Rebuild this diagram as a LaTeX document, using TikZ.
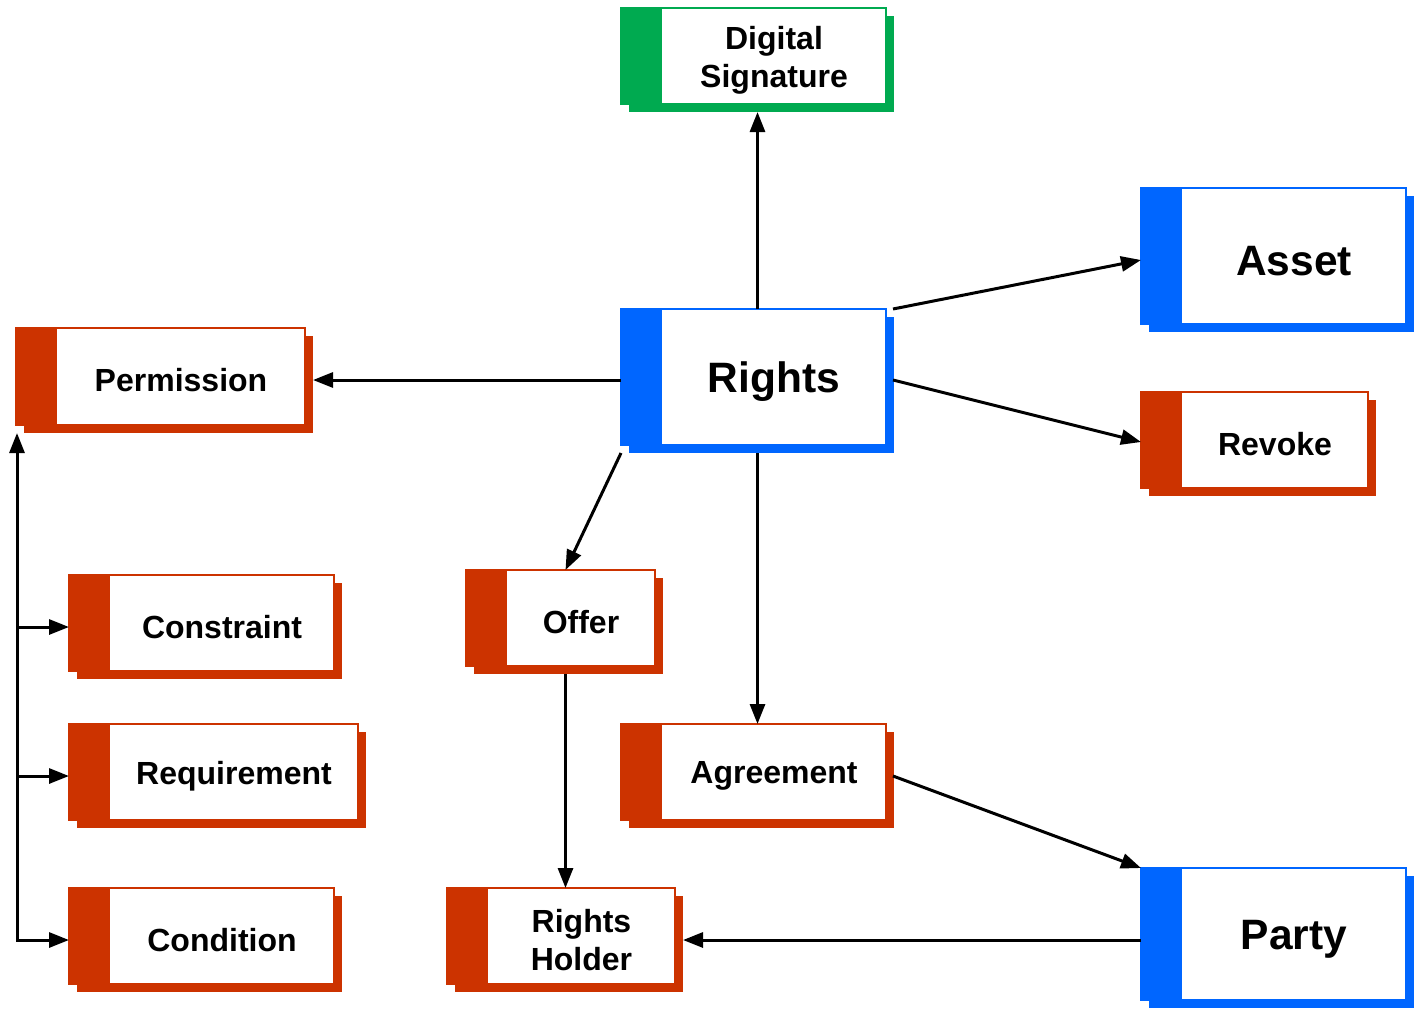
\documentclass[tikz,border=0pt]{standalone}
\usepackage{fontspec}
\setmainfont{Liberation Sans}
\usetikzlibrary{arrows.meta,calc}
\definecolor{cred}{HTML}{CC3300}
\definecolor{cblue}{HTML}{0066FF}
\definecolor{cgreen}{HTML}{00AA50}
\newcommand\mkbox[8]{%
  \node[shadowbox, fill=#6, minimum width=#4pt, minimum height=#5pt] (#1s) at (#2+8,#3+8) {};
  \node[frontbox, draw=#6, minimum width=#4pt, minimum height=#5pt] (#1) at (#2,#3) {};
  \fill[#6] (#1.north west) rectangle ([xshift=41pt]#1.south west);
  \node[#8] (#1t) at ([xshift=20.5pt]#1.center) {#7};
}
\begin{document}
\begin{tikzpicture}[x=1pt,y=-1pt,
  shadowbox/.style={anchor=north west, inner sep=0pt, outer sep=0pt, draw=none},
  frontbox/.style={anchor=north west, inner sep=0pt, outer sep=0pt, fill=white, line width=2pt},
  smalltext/.style={font=\bfseries\fontsize{32}{38}\selectfont, align=center, text=black, yshift=-4pt},
  bigtext/.style={font=\bfseries\fontsize{42.5}{48}\selectfont, align=center, text=black, yshift=-5pt},
  arr/.style={line width=3pt, -{Triangle[length=20pt,width=15pt]}},
  arrb/.style={line width=3pt, {Triangle[length=20pt,width=15pt]}-{Triangle[length=20pt,width=15pt]}}]
\useasboundingbox (0,0) rectangle (1418,1010);
\mkbox{ds}{621}{8}{265}{96}{cgreen}{Digital\\Signature}{smalltext}
\mkbox{rights}{621}{309}{265}{136}{cblue}{Rights}{bigtext}
\mkbox{asset}{1141}{188}{265}{136}{cblue}{Asset}{bigtext}
\mkbox{perm}{16}{328}{289}{97}{cred}{Permission}{smalltext}
\mkbox{revoke}{1141}{392}{227}{96}{cred}{Revoke}{smalltext}
\mkbox{constr}{69}{575}{265}{96}{cred}{Constraint}{smalltext}
\mkbox{offer}{466}{570}{189}{96}{cred}{Offer}{smalltext}
\mkbox{req}{69}{724}{289}{96}{cred}{Requirement}{smalltext}
\mkbox{agree}{621}{724}{265}{96}{cred}{Agreement}{smalltext}
\mkbox{cond}{69}{888}{265}{96}{cred}{Condition}{smalltext}
\mkbox{holder}{447}{888}{228}{96}{cred}{Rights\\Holder}{smalltext}
\mkbox{party}{1141}{868}{265}{132}{cblue}{Party}{bigtext}
% connectors
\draw[arr] ([xshift=4pt]rights.north) -- ([xshift=4pt]rights.north |- dss.south);
\draw[arr] ([xshift=7pt]rights.north east) -- ([yshift=-4pt]asset.west);
\draw[arr] ([xshift=7pt,yshift=-3pt]rights.east) -- ([yshift=-2pt]revoke.west);
\draw[arr] ([yshift=-3pt]rights.west) -- ([yshift=-3pt]rights.west -| perms.east);
\draw[arr] ([yshift=-8pt]rights.south west) -- ([xshift=5pt]offer.north);
\draw[arr] ([xshift=4pt]rightss.south -| rights.north) -- ([xshift=4pt]rights.north |- agree.north);
\draw[arr] ([xshift=7pt,yshift=-4pt]agree.east) -- (party.north west);
\draw[arr] ([xshift=5pt]offer.north |- offers.south) -- ([xshift=5pt]offer.north |- holder.north);
\draw[arr] ([yshift=-6pt]party.west) -- ([yshift=-6pt]party.west -| holders.east);
\coordinate (tl) at ([xshift=1pt]perm.west |- perms.south);
\draw[arrb] ([yshift=-4pt]cond.west) -| (tl);
\draw[arr] ([yshift=-4pt]req.west -| tl) -- ([yshift=-4pt]req.west);
\draw[arr] ([yshift=-4pt]constr.west -| tl) -- ([yshift=-4pt]constr.west);
\end{tikzpicture}
\end{document}
